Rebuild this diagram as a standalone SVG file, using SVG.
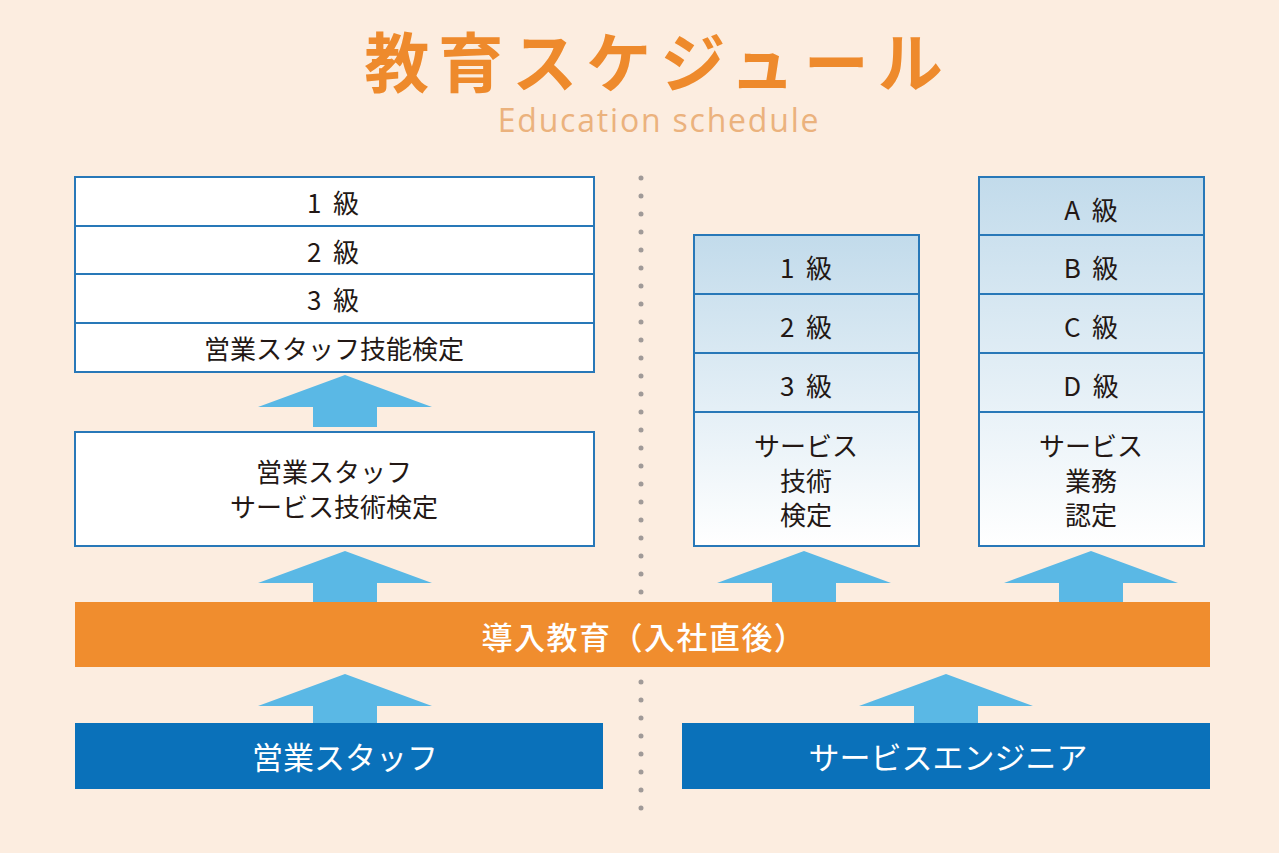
<svg xmlns="http://www.w3.org/2000/svg" width="1279" height="853" viewBox="0 0 1279 853">
<defs>
<style>
.jp{font-family:"Noto Sans CJK JP","Noto Sans",sans-serif;}
.cell{fill:none;stroke:#2878b8;stroke-width:2;}
.white{fill:#ffffff;stroke:#2878b8;stroke-width:2;}
.lbl{font-size:26px;fill:#231815;text-anchor:middle;dominant-baseline:central;}
.arrow{fill:#5ab8e5;}
.wlbl{fill:#ffffff;text-anchor:middle;dominant-baseline:central;}
</style>
<linearGradient id="g" x1="0" y1="0" x2="0" y2="1">
<stop offset="0" stop-color="#c2dbeb"/>
<stop offset="1" stop-color="#ffffff"/>
</linearGradient>
<path id="arr" d="M0,0 L87,32 L32,32 L32,52 L-32,52 L-32,32 L-87,32 Z"/>
</defs>
<rect width="1279" height="853" fill="#fcede0"/>

<g id="title">
<text x="658" y="87" class="jp" font-size="65" font-weight="bold" fill="#ee8a2c" text-anchor="middle" letter-spacing="9">教育スケジュール</text>
<text x="659" y="132" font-family="'Open Sans','Noto Sans',sans-serif" font-size="32" fill="#ebb27d" text-anchor="middle" letter-spacing="1.8">Education schedule</text>
</g>

<g id="divider" stroke="#a09a98" stroke-width="5" stroke-linecap="round" stroke-dasharray="0 18">
<line x1="641" y1="178" x2="641" y2="593"/>
<line x1="641" y1="682" x2="641" y2="809"/>
</g>

<g id="connectors" class="arrow">
<use href="#arr" x="345" y="375"/>
<use href="#arr" x="345" y="551"/>
<use href="#arr" x="345" y="674"/>
<use href="#arr" x="804" y="551"/>
<use href="#arr" x="1091" y="551"/>
<use href="#arr" x="946" y="674"/>
</g>

<g id="sales-skill" class="jp">
<rect class="white" x="75" y="177" width="519" height="49"/>
<rect class="white" x="75" y="226" width="519" height="48"/>
<rect class="white" x="75" y="274" width="519" height="49"/>
<rect class="white" x="75" y="323" width="519" height="49"/>
<text class="lbl" x="333" y="201" xml:space="preserve">1  級</text>
<text class="lbl" x="333" y="250" xml:space="preserve">2  級</text>
<text class="lbl" x="333" y="298" xml:space="preserve">3  級</text>
<text class="lbl" x="334" y="347">営業スタッフ技能検定</text>
</g>

<g id="sales-service" class="jp">
<rect class="white" x="75" y="432" width="519" height="114"/>
<text class="lbl" x="334" y="470">営業スタッフ</text>
<text class="lbl" x="334" y="505">サービス技術検定</text>
</g>

<g id="service-tech" class="jp">
<rect x="694" y="235" width="225" height="311" fill="url(#g)"/>
<rect class="cell" x="694" y="235" width="225" height="59"/>
<rect class="cell" x="694" y="294" width="225" height="59"/>
<rect class="cell" x="694" y="353" width="225" height="59"/>
<rect class="cell" x="694" y="412" width="225" height="134"/>
<text class="lbl" x="806" y="266" xml:space="preserve">1  級</text>
<text class="lbl" x="806" y="325" xml:space="preserve">2  級</text>
<text class="lbl" x="806" y="384" xml:space="preserve">3  級</text>
<text class="lbl" x="806" y="444">サービス</text>
<text class="lbl" x="806" y="479">技術</text>
<text class="lbl" x="806" y="513">検定</text>
</g>

<g id="service-business" class="jp">
<rect x="979" y="177" width="225" height="369" fill="url(#g)"/>
<rect class="cell" x="979" y="177" width="225" height="58"/>
<rect class="cell" x="979" y="235" width="225" height="59"/>
<rect class="cell" x="979" y="294" width="225" height="59"/>
<rect class="cell" x="979" y="353" width="225" height="59"/>
<rect class="cell" x="979" y="412" width="225" height="134"/>
<text class="lbl" x="1091" y="208" xml:space="preserve">A  級</text>
<text class="lbl" x="1091" y="266" xml:space="preserve">B  級</text>
<text class="lbl" x="1091" y="325" xml:space="preserve">C  級</text>
<text class="lbl" x="1091" y="384" xml:space="preserve">D  級</text>
<text class="lbl" x="1091" y="444">サービス</text>
<text class="lbl" x="1091" y="479">業務</text>
<text class="lbl" x="1091" y="513">認定</text>
</g>

<g id="induction" class="jp">
<rect x="75" y="602" width="1135" height="65" fill="#f08d2e"/>
<text class="wlbl" x="644" y="635" font-size="31" font-weight="500" letter-spacing="1.5">導入教育（入社直後）</text>
</g>

<g id="sales-staff" class="jp">
<rect x="75" y="723" width="528" height="66" fill="#0a71ba"/>
<text class="wlbl" x="345" y="755" font-size="31">営業スタッフ</text>
</g>

<g id="service-engineer" class="jp">
<rect x="682" y="723" width="528" height="66" fill="#0a71ba"/>
<text class="wlbl" x="948" y="755" font-size="31">サービスエンジニア</text>
</g>
</svg>
